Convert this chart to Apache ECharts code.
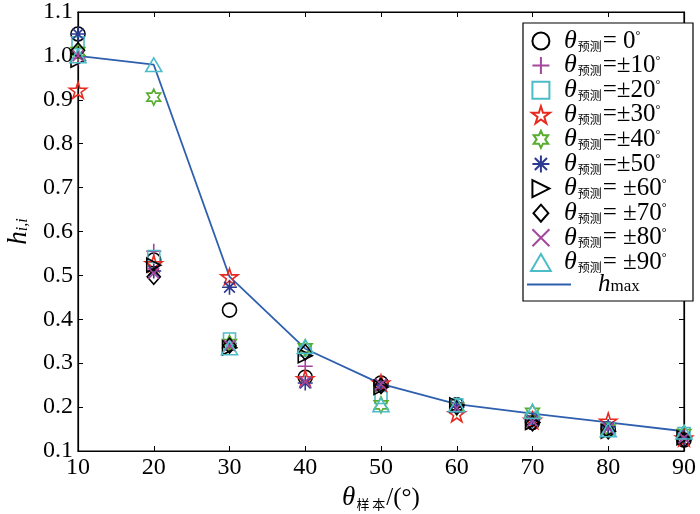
<!DOCTYPE html>
<html lang="zh">
<head>
    <meta charset="UTF-8">
    <title>h_ii 与样本角度</title>
    <script src="https://cdn.jsdelivr.net/npm/echarts@6/dist/echarts.min.js"></script>
    <style>
        body { margin: 0; background: #fff; }
    </style>
</head>
<body>
<div id="main" style="width: 700px;height: 514px"></div>
<script type="text/javascript">
    // 横轴: θ样本 (°)
    var xData = [10, 20, 30, 40, 50, 60, 70, 80, 90];

    // 各预测角度下的 h_ii
    var h0   = [1.050, 0.535, 0.421, 0.268, 0.255, 0.205, 0.165, 0.150, 0.125];
    var h10  = [0.995, 0.555, 0.345, 0.293, 0.250, 0.200, 0.170, 0.155, 0.130];
    var h20  = [1.030, 0.543, 0.355, 0.330, 0.222, 0.205, 0.175, 0.150, 0.140];
    var h30  = [0.922, 0.527, 0.497, 0.265, 0.255, 0.185, 0.170, 0.168, 0.130];
    var h40  = [1.010, 0.906, 0.345, 0.335, 0.205, 0.200, 0.188, 0.150, 0.140];
    var h50  = [1.050, 0.510, 0.473, 0.255, 0.250, 0.200, 0.170, 0.155, 0.130];
    var h60  = [0.990, 0.523, 0.335, 0.317, 0.245, 0.205, 0.165, 0.145, 0.130];
    var h70  = [1.013, 0.497, 0.340, 0.325, 0.248, 0.200, 0.163, 0.145, 0.125];
    var h80  = [1.000, 0.505, 0.340, 0.258, 0.252, 0.198, 0.168, 0.152, 0.130];
    var h90  = [1.000, 0.980, 0.335, 0.338, 0.205, 0.205, 0.190, 0.148, 0.143];
    var hMax = [1.000, 0.980, 0.497, 0.333, 0.253, 0.207, 0.185, 0.165, 0.145];

    var labels = ['= 0', '=±10', '=±20', '=±30', '=±40', '=±50', '= ±60', '= ±70', '= ±80', '= ±90'];
    var yTicks = [0.1, 0.2, 0.3, 0.4, 0.5, 0.6, 0.7, 0.8, 0.9, 1.0, 1.1];

    var serif = 'Liberation Serif';

    /* 符号形状 */
    var mk = {
        circle: 'circle',
        plus: 'path://M0,7L14,7M7,0L7,14',
        square: 'path://M0,0L10,0L10,10L0,10Z',
        star: 'path://M50,0L61,35L98,35L68,57L79,91L50,70L21,91L32,57L2,35L39,35Z',
        hexa: 'path://M50,0L62,25L93,25L75,50L93,75L62,75L50,100L38,75L7,75L25,50L7,25L38,25Z',
        aster: 'path://M7,0L7,14M0,7L14,7M2,2L12,12M12,2L2,12',
        rtri: 'path://M0,0L12,6L0,12Z',
        diamond: 'path://M7,0L14,8L7,16L0,8Z',
        cross: 'path://M0,0L10,10M10,0L0,10',
        tri: 'path://M7,0L14,12L0,12Z'
    };

    var groups = [
        [h0,  mk.circle,  '#000000', 14],
        [h10, mk.plus,    '#a4479c', 15],
        [h20, mk.square,  '#4cbcc8', 12],
        [h30, mk.star,    '#e62a1f', 17],
        [h40, mk.hexa,    '#58ad2f', 16],
        [h50, mk.aster,   '#2b3990', 15],
        [h60, mk.rtri,    '#000000', 14],
        [h70, mk.diamond, '#000000', 15],
        [h80, mk.cross,   '#a4479c', 11],
        [h90, mk.tri,     '#4cbcc8', 16]
    ];

    var series = [];
    groups.forEach(function (g, i) {
        series.push({
            name: labels[i],
            type: 'scatter',
            symbol: g[1],
            symbolSize: g[3],
            symbolKeepAspect: true,
            itemStyle: { color: 'rgba(255,255,255,0)', borderColor: g[2], borderWidth: 1.6, opacity: 1 },
            data: xData.map(function (x, k) { return [x, g[0][k]]; }),
            z: 3
        });
    });
    series.push({
        name: 'hmax',
        type: 'line',
        symbol: 'none',
        lineStyle: { color: '#2e5fae', width: 1.8 },
        itemStyle: { color: '#2e5fae' },
        data: xData.map(function (x, k) { return [x, hMax[k]]; }),
        z: 2
    });

    var legendRich = {
        t: { fontFamily: serif, fontStyle: 'italic', fontSize: 26, lineHeight: 22, color: '#000' },
        s: { fontFamily: 'Noto Sans CJK SC', fontSize: 12, lineHeight: 12, verticalAlign: 'bottom', color: '#000', padding: [0, 1, 0, 1] },
        e: { fontFamily: serif, fontSize: 25, lineHeight: 22, color: '#000' },
        d: { fontFamily: serif, fontSize: 12, lineHeight: 12, verticalAlign: 'top', color: '#000' },
        h: { fontFamily: serif, fontStyle: 'italic', fontSize: 25, lineHeight: 22, color: '#000', padding: [0, 0, 0, 22] },
        m: { fontFamily: serif, fontSize: 17, lineHeight: 14, verticalAlign: 'bottom', color: '#000' }
    };

    var myChart = echarts.init(document.getElementById('main'));
    myChart.setOption({
        animation: false,
        backgroundColor: '#fff',
        grid: {
            left: 78, right: 16, top: 12, bottom: 63,
            outerBoundsMode: 'none', containLabel: false,
            show: true, borderColor: '#000', borderWidth: 1.2, backgroundColor: 'transparent'
        },
        graphic: [{
            type: 'rect', z: 10,
            shape: { x: 523, y: 23, width: 170, height: 278 },
            style: { fill: '#fff', stroke: '#000', lineWidth: 1.2 }
        }],
        legend: [{
            orient: 'vertical',
            left: 530, top: 28,
            padding: 0,
            itemGap: -1.4,
            itemWidth: 36, itemHeight: 17,
            z: 20,
            data: labels,
            formatter: function (name) {
                return '{t|θ}{s|预测}{e|' + name + '}{d|°}';
            },
            textStyle: { fontFamily: serif, fontSize: 20, color: '#000', rich: legendRich }
        }, {
            orient: 'vertical',
            left: 527, top: 272,
            padding: 0,
            itemWidth: 44, itemHeight: 2,
            z: 20,
            data: [{ name: 'hmax', icon: 'rect', itemStyle: { color: '#2e5fae' } }],
            formatter: function () { return '{h|h}{m|max}'; },
            textStyle: { fontFamily: serif, fontSize: 20, color: '#000', rich: legendRich }
        }],
        xAxis: [{
            type: 'value', min: 10, max: 90, interval: 10,
            position: 'bottom',
            splitLine: { show: false },
            axisLine: { lineStyle: { color: '#000', width: 1.2 } },
            axisTick: { inside: true, length: 5, lineStyle: { color: '#000' } },
            axisLabel: { color: '#000', fontFamily: serif, fontSize: 24, margin: 5 },
            name: '{t|θ}{s|样 本}{e|/(°)}',
            nameLocation: 'middle',
            nameGap: 34,
            nameTextStyle: {
                rich: {
                    t: { fontFamily: serif, fontStyle: 'italic', fontSize: 27, lineHeight: 24, color: '#000' },
                    s: { fontFamily: 'Noto Sans CJK SC', fontSize: 13, lineHeight: 13, verticalAlign: 'bottom', color: '#000', padding: [0, 1, 0, 1] },
                    e: { fontFamily: serif, fontSize: 25, lineHeight: 24, color: '#000' }
                }
            }
        }, {
            type: 'value', min: 10, max: 90, interval: 10,
            position: 'top',
            splitLine: { show: false },
            axisLine: { lineStyle: { color: '#000', width: 1.2 } },
            axisTick: { inside: true, length: 5, lineStyle: { color: '#000' } },
            axisLabel: { show: false }
        }],
        yAxis: [{
            type: 'value', min: 0.1, max: 1.1, interval: 0.1,
            splitLine: { show: false },
            axisLine: { show: true, lineStyle: { color: '#000', width: 1.2 } },
            axisTick: { show: true, inside: true, length: 5, lineStyle: { color: '#000' } },
            axisLabel: {
                color: '#000', fontFamily: serif, fontSize: 24, margin: 5,
                formatter: function (v) {
                    var t = yTicks.filter(function (y) { return Math.abs(y - v) < 1e-6; });
                    return t.length ? t[0].toFixed(1) : '';
                }
            },
            name: '{h|h}{s|i,i}',
            nameLocation: 'middle',
            nameGap: 42,
            nameRotate: 90,
            nameTextStyle: {
                rich: {
                    h: { fontFamily: serif, fontStyle: 'italic', fontSize: 27, lineHeight: 24, color: '#000' },
                    s: { fontFamily: serif, fontStyle: 'italic', fontSize: 16, lineHeight: 14, verticalAlign: 'bottom', color: '#000' }
                }
            }
        }, {
            type: 'value', min: 0.1, max: 1.1, interval: 0.1,
            position: 'right',
            splitLine: { show: false },
            axisLine: { show: true, lineStyle: { color: '#000', width: 1.2 } },
            axisTick: { show: true, inside: true, length: 5, lineStyle: { color: '#000' } },
            axisLabel: { show: false }
        }],
        series: series
    });
</script>
</body>
</html>
